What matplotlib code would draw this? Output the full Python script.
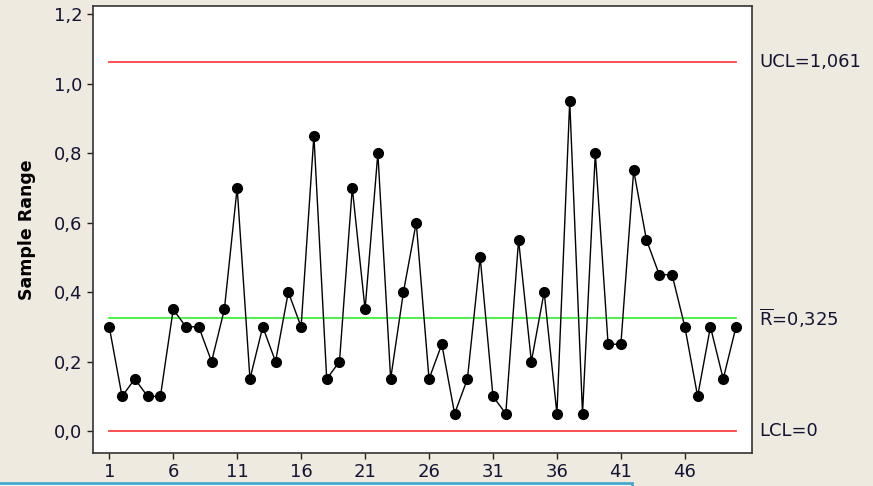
import numpy as np
import matplotlib.pyplot as plt
from matplotlib.patches import Rectangle

# sample ranges for 50 subgroups
sample = list(range(1, 51))
ranges = [0.30, 0.10, 0.15, 0.10, 0.10, 0.35, 0.30, 0.30, 0.20, 0.35,
          0.70, 0.15, 0.30, 0.20, 0.40, 0.30, 0.85, 0.15, 0.20, 0.70,
          0.35, 0.80, 0.15, 0.40, 0.60, 0.15, 0.25, 0.05, 0.15, 0.50,
          0.10, 0.05, 0.55, 0.20, 0.40, 0.05, 0.95, 0.05, 0.80, 0.25,
          0.25, 0.75, 0.55, 0.45, 0.45, 0.30, 0.10, 0.30, 0.15, 0.30]
ucl = 1.061
rbar = 0.325
lcl = 0.0

xticks = [1, 6, 11, 16, 21, 26, 31, 36, 41, 46]
yticks = [0.0, 0.2, 0.4, 0.6, 0.8, 1.0, 1.2]
ytick_labels = ['0,0', '0,2', '0,4', '0,6', '0,8', '1,0', '1,2']

bg = '#EEEAE0'
W, H = 873, 486

plt.rcParams['font.family'] = ['DejaVu Sans']
fig = plt.figure(figsize=(W / 100, H / 100), dpi=100, facecolor=bg)
ax = fig.add_axes([93 / W, 1 - 453 / H, (752 - 93) / W, (453 - 6) / H])
ax.set_facecolor('white')

# control limits and centre line
ax.plot([sample[0], sample[-1]], [ucl, ucl], color='#FF4040', lw=1.3, zorder=2)
ax.plot([sample[0], sample[-1]], [lcl, lcl], color='#FF4040', lw=1.3, zorder=2)
ax.plot([sample[0], sample[-1]], [rbar, rbar], color='#40F040', lw=1.3, zorder=2)

ax.plot(sample, ranges, color='black', lw=1.0, marker='o', markersize=7,
        markerfacecolor='black', markeredgecolor='black', zorder=3)

ax.set_xlim(-0.27, 51.25)
ax.set_ylim(-0.063, 1.223)
ax.set_xticks(xticks)
ax.set_xticklabels([str(t) for t in xticks])
ax.set_yticks(yticks)
ax.set_yticklabels(ytick_labels)
ax.tick_params(direction='out', length=4.5, width=1, color='#222222',
               labelsize=13, labelcolor='#141432', pad=3)

for s in ax.spines.values():
    s.set_color('#333333')
    s.set_linewidth(1.2)

ax.set_ylabel('Sample Range', fontsize=12.5, fontweight='bold')
ax.yaxis.set_label_coords(-0.087, 0.5)

# limit labels on the right
lab = dict(transform=ax.get_yaxis_transform(), fontsize=13, color='#141432',
           va='center', ha='left', clip_on=False)
ax.text(1.0106, ucl, 'UCL=1,061', **lab)
ax.text(1.0106, rbar, r'$\overline{\mathrm{R}}$=0,325', **lab)
ax.text(1.0106, lcl, 'LCL=0', **lab)

# edge of the panel below
fig.patches.append(Rectangle((-2 / W, -2 / H), 634 / W, 5 / H,
                             transform=fig.transFigure, facecolor='#F4F9FB',
                             edgecolor='#48A8CC', linewidth=2))

fig.savefig('out.png', dpi=100, facecolor=bg)
